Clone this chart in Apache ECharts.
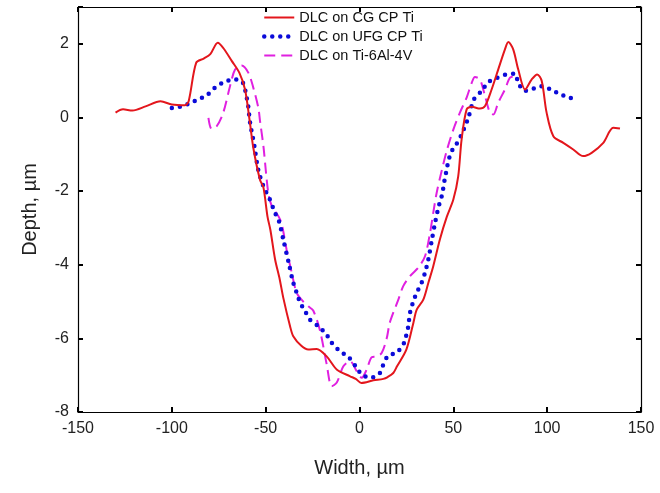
<!DOCTYPE html>
<html>
<head>
<meta charset="utf-8">
<script src="https://cdn.jsdelivr.net/npm/echarts@6/dist/echarts.min.js"></script>
<style>
html,body{margin:0;padding:0;background:#fff;}
#chart{width:660px;height:493px;}
</style>
</head>
<body>
<div id="chart"></div>
<script>
const seriesNames = ['DLC on CG CP Ti', 'DLC on UFG CP Ti', 'DLC on Ti-6Al-4V'];

const cgCpTi = [
  [-130, 0.13], [-126, 0.22], [-121, 0.19], [-114, 0.30], [-106, 0.44], [-100, 0.35], [-93, 0.33], [-91, 0.45],
  [-87, 1.49], [-83, 1.60], [-79.5, 1.72], [-75.5, 2.03], [-72.5, 1.88], [-68, 1.53], [-64, 1.21], [-61, 0.76],
  [-58.5, -0.1], [-56.5, -0.85], [-53, -1.7], [-51.2, -1.9], [-49, -2.7], [-47.5, -3.05], [-45, -3.85],
  [-42.5, -4.4], [-40.6, -4.9], [-37, -5.67], [-35.3, -5.94], [-31, -6.2], [-27.3, -6.30], [-22.8, -6.29],
  [-17.5, -6.49], [-12, -6.85], [-5, -7.03], [-2, -7.1], [1, -7.21], [7.4, -7.14], [12.7, -7.1], [15, -7.05],
  [18, -6.94], [20, -6.76], [25, -6.30], [28.7, -5.58], [30.5, -5.22], [34, -4.95], [36.7, -4.49], [39.3, -4.04],
  [42.9, -3.3], [46.5, -2.7], [50, -2.23], [52.6, -1.6], [54.4, -0.6], [57.1, 0.22], [59.8, 0.29], [64.2, 0.24],
  [66.9, 0.31], [70.4, 0.76], [73.9, 1.30], [77.5, 1.85], [79.3, 2.05], [81.9, 1.85], [84.6, 1.30], [88.2, 0.76],
  [91.7, 1.03], [94.7, 1.17], [97.1, 0.99], [99.7, 0.13], [103.3, -0.51], [108.6, -0.69], [113.9, -0.87],
  [119.2, -1.05], [123.7, -0.96], [129.9, -0.69], [135.2, -0.28], [138.8, -0.30]
];

const ufgCpTi = [
  [-100, 0.26], [-95.6, 0.29], [-90.7, 0.38], [-85.9, 0.49], [-81.4, 0.60], [-77, 0.81], [-72.2, 0.96],
  [-67.2, 1.03], [-62.8, 0.99], [-61, 0.76], [-60, 0.51], [-59.2, 0.27], [-58.7, 0.02], [-58, -0.24],
  [-57, -0.5], [-56, -0.78], [-54, -1.41], [-51.2, -1.87], [-48, -2.2], [-45, -2.59], [-43, -2.8],
  [-40.6, -3.32], [-37.5, -4.0], [-35.5, -4.45], [-33.5, -4.76], [-31.7, -5.02], [-29, -5.26], [-26.4, -5.49],
  [-21.9, -5.67], [-17.8, -5.88], [-14.8, -6.12], [-10.4, -6.35], [-6, -6.50], [-2, -6.76], [1.2, -6.98],
  [6.1, -7.07], [10.6, -6.96], [12.7, -6.71], [15.3, -6.47], [19.6, -6.39], [23.3, -6.17], [24.8, -5.94],
  [26, -5.67], [26.9, -5.31], [28.7, -4.99], [30.5, -4.76], [33.1, -4.49], [35, -4.2], [36.7, -3.85],
  [38.5, -3.34], [40.2, -2.88], [41.4, -2.59], [42.8, -2.3], [43.8, -2.14], [44.7, -1.9], [45.5, -1.65],
  [46.5, -1.41], [47.3, -1.19], [49.1, -0.92], [51.8, -0.71], [54.4, -0.46], [56.2, -0.24], [58, -0.01],
  [61, 0.49], [65.1, 0.72], [68.6, 0.96], [73.4, 1.08], [78.4, 1.17], [82.8, 1.19], [84.6, 0.94], [88.2, 0.72],
  [92.6, 0.78], [97.1, 0.85], [101.9, 0.76], [106.8, 0.63], [111.2, 0.55], [115.7, 0.49]
];

const ti6Al4V = [
  [-80.5, -0.01], [-78.8, -0.31], [-76.1, -0.24], [-72.6, 0.13], [-69, 0.85], [-66.3, 1.30], [-62.8, 1.41],
  [-59.2, 1.21], [-56.6, 0.81], [-53.9, 0.26], [-53, -0.1], [-51.2, -0.78], [-48.6, -2.05], [-46.5, -2.45],
  [-45, -2.55], [-43, -2.7], [-41.4, -2.9], [-38.8, -3.6], [-36.1, -4.22], [-33.5, -4.76], [-30, -5.0],
  [-27.3, -5.13], [-24.6, -5.25], [-21, -5.8], [-17.5, -6.7], [-14.8, -7.3], [-12.1, -7.2], [-8.6, -6.76],
  [-5, -6.62], [-1.5, -6.89], [1.2, -7.07], [3.8, -6.85], [6.5, -6.51], [9.2, -6.49], [11.8, -6.4],
  [14.5, -6.0], [16, -5.6], [18, -5.3], [20.7, -4.95], [23.3, -4.58], [26.9, -4.31], [31.3, -4.08],
  [34.9, -3.77], [37.6, -3.13], [39.3, -2.59], [41.1, -2.05], [43.8, -1.45], [46.5, -0.9], [50, -0.33],
  [53.5, 0.13], [57.1, 0.54], [59.8, 0.94], [61.5, 1.10], [64.2, 1.03], [66.9, 0.58], [69.5, 0.13],
  [71.3, 0.08], [73.9, 0.40], [77.5, 0.76], [80.2, 1.08], [82.8, 1.12], [84.6, 0.99]
];

const xTicks = { min: -150, max: 150, interval: 50 };
const yTicks = { min: -8, max: 3, interval: 2 };
const xTitle = 'Width, µm';
const yTitle = 'Depth, µm';

const FONT = '"Liberation Sans", Arial, sans-serif';
const RED = '#e3161c', BLUE = '#0b0bd9', PINK = '#e020e0';
const chart = echarts.init(document.getElementById('chart'), null, { renderer: 'canvas' });

const axisLineStyle = { show: true, onZero: false, lineStyle: { color: '#000', width: 1.2 } };
const tickStyle = { show: true, inside: true, length: 5, lineStyle: { color: '#000', width: 2 } };

chart.setOption({
  animation: false,
  backgroundColor: '#fff',
  grid: { left: 78, right: 19, top: 7, bottom: 81 },
  legend: {
    orient: 'vertical',
    left: 257,
    top: 5,
    padding: 5,
    itemWidth: 30,
    itemHeight: 14,
    itemGap: 4,
    itemStyle: { opacity: 0 },
    textStyle: { fontFamily: FONT, fontSize: 14.5, color: '#111' },
    data: [
      { name: seriesNames[0], lineStyle: { color: RED, width: 2 } },
      { name: seriesNames[1], lineStyle: { color: BLUE, width: 4.5, type: [0, 8], cap: 'round' } },
      { name: seriesNames[2], lineStyle: { color: PINK, width: 2, type: [11, 6] } }
    ]
  },
  xAxis: [
    {
      type: 'value', position: 'bottom', min: xTicks.min, max: xTicks.max, interval: xTicks.interval,
      axisLine: axisLineStyle, axisTick: tickStyle, splitLine: { show: false },
      axisLabel: { fontFamily: FONT, fontSize: 16, color: '#222', margin: 9 },
      name: xTitle, nameLocation: 'middle', nameGap: 46,
      nameTextStyle: { fontFamily: FONT, fontSize: 20, color: '#222' }
    },
    {
      type: 'value', position: 'top', min: xTicks.min, max: xTicks.max, interval: xTicks.interval,
      axisLine: axisLineStyle, axisTick: tickStyle, splitLine: { show: false },
      axisLabel: { show: false }
    }
  ],
  yAxis: [
    {
      type: 'value', position: 'left', min: yTicks.min, max: yTicks.max, interval: yTicks.interval,
      axisLine: axisLineStyle, axisTick: tickStyle, splitLine: { show: false },
      axisLabel: {
        fontFamily: FONT, fontSize: 16, color: '#222', margin: 9,
        formatter: v => (v === yTicks.max ? '' : String(v))
      },
      name: yTitle, nameLocation: 'middle', nameGap: 38,
      nameTextStyle: { fontFamily: FONT, fontSize: 20, color: '#222' }
    },
    {
      type: 'value', position: 'right', min: yTicks.min, max: yTicks.max, interval: yTicks.interval,
      axisLine: axisLineStyle, axisTick: tickStyle, splitLine: { show: false },
      axisLabel: { show: false }
    }
  ],
  series: [
    {
      name: seriesNames[0], type: 'line', data: cgCpTi, showSymbol: false, symbol: 'none', smooth: 0.3,
      lineStyle: { color: RED, width: 2 }, itemStyle: { color: RED }, z: 3
    },
    {
      name: seriesNames[1], type: 'line', data: ufgCpTi, showSymbol: false, symbol: 'none', smooth: 0.3,
      lineStyle: { color: BLUE, width: 4.5, type: [0, 8], cap: 'round' }, itemStyle: { color: BLUE }, z: 2
    },
    {
      name: seriesNames[2], type: 'line', data: ti6Al4V, showSymbol: false, symbol: 'none', smooth: 0.3,
      lineStyle: { color: PINK, width: 2, type: [11, 6] }, itemStyle: { color: PINK }, z: 1
    }
  ]
});
</script>
</body>
</html>
